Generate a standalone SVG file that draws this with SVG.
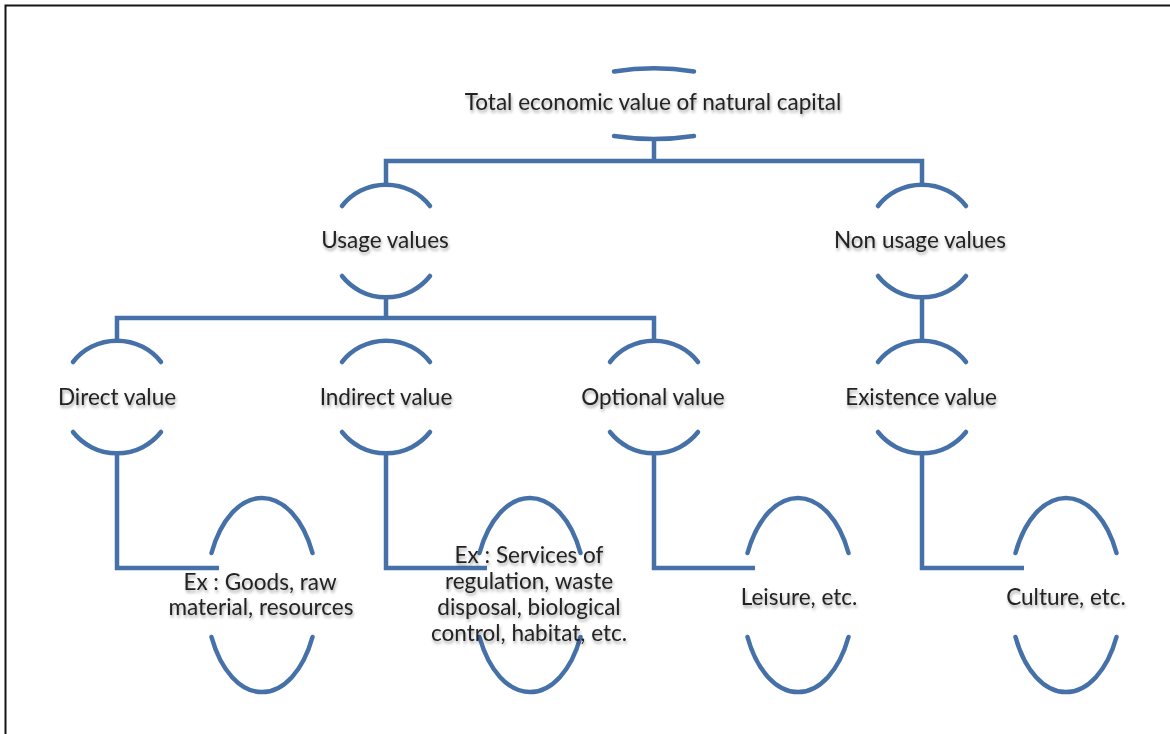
<svg xmlns="http://www.w3.org/2000/svg" width="1170" height="734" viewBox="0 0 1170 734">
<defs>
<filter id="sh" x="-10%" y="-30%" width="120%" height="180%">
<feDropShadow dx="1" dy="2.5" stdDeviation="1.6" flood-color="#000" flood-opacity="0.35"/>
</filter>
</defs>
<style>
.ln{fill:none;stroke:#4671a8;stroke-width:4.5;stroke-linecap:butt;stroke-linejoin:miter}
.arc{fill:none;stroke:#4671a8;stroke-width:4.5;stroke-linecap:round}
.t{font-family:Lato,"Open Sans","Liberation Sans",sans-serif;font-size:22.5px;fill:#222222;text-anchor:middle;filter:url(#sh)}
</style>
<rect x="0" y="0" width="1170" height="734" fill="#ffffff"/>
<rect x="5.5" y="5.5" width="1180" height="760" fill="none" stroke="#151515" stroke-width="2"/>

<g id="connectors">
<path class="ln" d="M654,139 V161 M386,185 V161 H922 V185"/>
<path class="ln" d="M386,297 V318 M117,341 V318 H654 V341"/>
<path class="ln" d="M922,297 V341"/>
<path class="ln" d="M117,451 V568 H219"/>
<path class="ln" d="M386,451 V568 H487"/>
<path class="ln" d="M654,451 V568 H755"/>
<path class="ln" d="M922,451 V568 H1024"/>
</g>

<g id="root">
<path class="arc" d="M614,71.5 Q654,65 694,71.5"/>
<path class="arc" d="M614,136 Q654,142 694,136"/>
<text class="t" x="653" y="110">Total economic value of natural capital</text>
</g>

<g id="usage">
<path class="arc" d="M342,206 A56,56 0 0 1 430,206"/>
<path class="arc" d="M342,276 A56,56 0 0 0 430,276"/>
<text class="t" x="385" y="248">Usage values</text>
</g>

<g id="nonusage">
<path class="arc" d="M878,206 A56,56 0 0 1 966,206"/>
<path class="arc" d="M878,276 A56,56 0 0 0 966,276"/>
<text class="t" x="920" y="248">Non usage values</text>
</g>

<g id="direct">
<path class="arc" d="M73,362 A56,56 0 0 1 161,362"/>
<path class="arc" d="M73,432 A56,56 0 0 0 161,432"/>
<text class="t" x="117" y="405">Direct value</text>
</g>

<g id="indirect">
<path class="arc" d="M342,362 A56,56 0 0 1 430,362"/>
<path class="arc" d="M342,432 A56,56 0 0 0 430,432"/>
<text class="t" x="386" y="405">Indirect value</text>
</g>

<g id="optional">
<path class="arc" d="M610,362 A56,56 0 0 1 698,362"/>
<path class="arc" d="M610,432 A56,56 0 0 0 698,432"/>
<text class="t" x="653" y="405">Optional value</text>
</g>

<g id="existence">
<path class="arc" d="M878,362 A56,56 0 0 1 966,362"/>
<path class="arc" d="M878,432 A56,56 0 0 0 966,432"/>
<text class="t" x="921" y="405">Existence value</text>
</g>

<g id="goods">
<path class="arc" d="M211.5,553 A56,97 0 0 1 312.5,553"/>
<path class="arc" d="M211.5,637 A56,97 0 0 0 312.5,637"/>
<text class="t" x="260" y="590">Ex : Goods, raw</text>
<text class="t" x="261" y="615">material, resources</text>
</g>

<g id="services">
<path class="arc" d="M479.5,553 A56,97 0 0 1 580.5,553"/>
<path class="arc" d="M479.5,637 A56,97 0 0 0 580.5,637"/>
<text class="t" x="529" y="563">Ex : Services of</text>
<text class="t" x="529" y="589">regulation, waste</text>
<text class="t" x="529" y="615">disposal, biological</text>
<text class="t" x="529" y="641">control, habitat, etc.</text>
</g>

<g id="leisure">
<path class="arc" d="M747.5,553 A56,97 0 0 1 848.5,553"/>
<path class="arc" d="M747.5,637 A56,97 0 0 0 848.5,637"/>
<text class="t" x="799" y="605">Leisure, etc.</text>
</g>

<g id="culture">
<path class="arc" d="M1015.5,553 A56,97 0 0 1 1116.5,553"/>
<path class="arc" d="M1015.5,637 A56,97 0 0 0 1116.5,637"/>
<text class="t" x="1066" y="605">Culture, etc.</text>
</g>
</svg>
